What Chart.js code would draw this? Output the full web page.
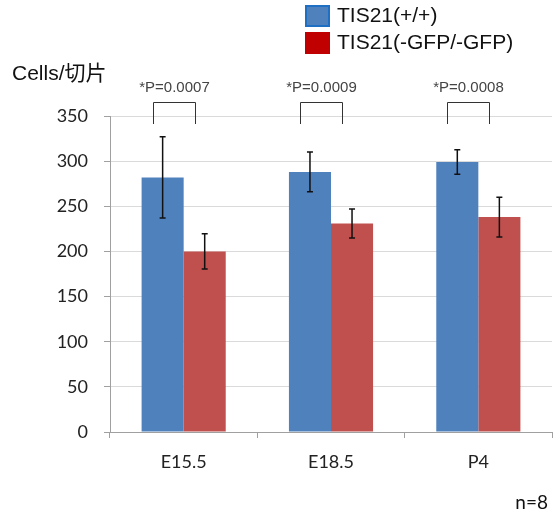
<!DOCTYPE html>
<html>
<head>
<meta charset="utf-8">
<script src="https://cdn.jsdelivr.net/npm/chart.js@4/dist/chart.umd.min.js"></script>
<style>
  html, body { margin: 0; padding: 0; background: #fff; }
  #wrap { width: 553px; height: 515px; }
</style>
</head>
<body>
<div id="wrap"><canvas id="chart" width="553" height="515"></canvas></div>
<script>
// data
const categories = ['E15.5', 'E18.5', 'P4'];
const seriesNames = ['TIS21(+/+)', 'TIS21(-GFP/-GFP)'];
const wildType = [282, 288, 299];
const knockout = [200, 231, 238];
const wildTypeErr = [45, 22, 13.5];
const knockoutErr = [19.5, 16, 22];
const pValues = ['*P=0.0007', '*P=0.0009', '*P=0.0008'];
const yMin = 0, yMax = 350, yStep = 50;

const blue = '#4f81bd';
const red = '#c0504d';

// error bars, significance brackets and the extra texts
const extras = {
  id: 'extras',
  afterDatasetsDraw(chart) {
    const ctx = chart.ctx;
    const y = chart.scales.y;
    const errs = [wildTypeErr, knockoutErr];
    ctx.save();
    ctx.strokeStyle = '#111';
    ctx.lineWidth = 1.5;
    chart.data.datasets.forEach((ds, di) => {
      chart.getDatasetMeta(di).data.forEach((bar, i) => {
        const v = ds.data[i], e = errs[di][i];
        const top = y.getPixelForValue(v + e), bot = y.getPixelForValue(v - e);
        ctx.beginPath();
        ctx.moveTo(bar.x, top); ctx.lineTo(bar.x, bot);
        ctx.moveTo(bar.x - 3, top); ctx.lineTo(bar.x + 3, top);
        ctx.moveTo(bar.x - 3, bot); ctx.lineTo(bar.x + 3, bot);
        ctx.stroke();
      });
    });
    ctx.restore();

    // brackets
    const b0 = chart.getDatasetMeta(0).data, b1 = chart.getDatasetMeta(1).data;
    ctx.save();
    ctx.strokeStyle = '#333';
    ctx.lineWidth = 1;
    ctx.font = '15px "Liberation Sans", Arial, sans-serif';
    ctx.fillStyle = '#444';
    ctx.textAlign = 'center';
    ctx.textBaseline = 'middle';
    categories.forEach((c, i) => {
      const x1 = Math.round(b0[i].x - 10) + 0.5, x2 = Math.round(b1[i].x - 10) + 0.5;
      ctx.beginPath();
      ctx.moveTo(x1, 124); ctx.lineTo(x1, 102.5); ctx.lineTo(x2, 102.5); ctx.lineTo(x2, 124);
      ctx.stroke();
      ctx.fillText(pValues[i], (x1 + x2) / 2, 88);
    });
    ctx.restore();

    // axis title, n label
    ctx.save();
    ctx.fillStyle = '#111';
    ctx.textBaseline = 'middle';
    ctx.font = '21px "Liberation Sans", "Noto Sans CJK JP", sans-serif';
    ctx.textAlign = 'left';
    ctx.fillText('Cells/切片', 12, 74);
    ctx.font = '19px Lato, sans-serif';
    ctx.textAlign = 'right';
    ctx.fillText('n=8', 548, 503);
    ctx.restore();

    // legend
    ctx.save();
    const boxes = [{ fill: blue, stroke: '#1f6fc5' }, { fill: '#c00000', stroke: '#c00000' }];
    ctx.font = '21px "Liberation Sans", Arial, sans-serif';
    ctx.textBaseline = 'middle';
    ctx.textAlign = 'left';
    seriesNames.forEach((name, i) => {
      const top = 5 + i * 27;
      ctx.fillStyle = boxes[i].fill;
      ctx.fillRect(305, top, 25, 22);
      ctx.strokeStyle = boxes[i].stroke;
      ctx.lineWidth = 2;
      ctx.strokeRect(306, top + 1, 23, 20);
      ctx.fillStyle = '#111';
      ctx.fillText(name, 337, top + 11);
    });
    ctx.restore();
  }
};

new Chart(document.getElementById('chart'), {
  type: 'bar',
  data: {
    labels: categories,
    datasets: [
      { label: seriesNames[0], data: wildType, backgroundColor: blue, categoryPercentage: 0.571, barPercentage: 1.0 },
      { label: seriesNames[1], data: knockout, backgroundColor: red, categoryPercentage: 0.571, barPercentage: 1.0 }
    ]
  },
  options: {
    responsive: false,
    animation: false,
    devicePixelRatio: 1,
    layout: { padding: { top: 116, right: 1, bottom: 0, left: 0 } },
    plugins: { legend: { display: false }, tooltip: { enabled: false } },
    scales: {
      x: {
        grid: { drawOnChartArea: false, drawTicks: true, tickLength: 6, color: '#a0a0a0' },
        border: { color: '#a0a0a0' },
        ticks: { font: { family: 'Lato', size: 18 }, color: '#222', padding: 13 },
        afterFit(s) { s.height = 83; }
      },
      y: {
        min: yMin, max: yMax,
        grid: { color: '#dadada', tickColor: '#a0a0a0', tickLength: 6 },
        border: { color: '#a0a0a0' },
        ticks: { stepSize: yStep, font: { family: 'Lato', size: 18 }, color: '#222', padding: 16 },
        afterFit(s) { s.width = 110; }
      }
    }
  },
  plugins: [extras]
});
</script>
</body>
</html>
